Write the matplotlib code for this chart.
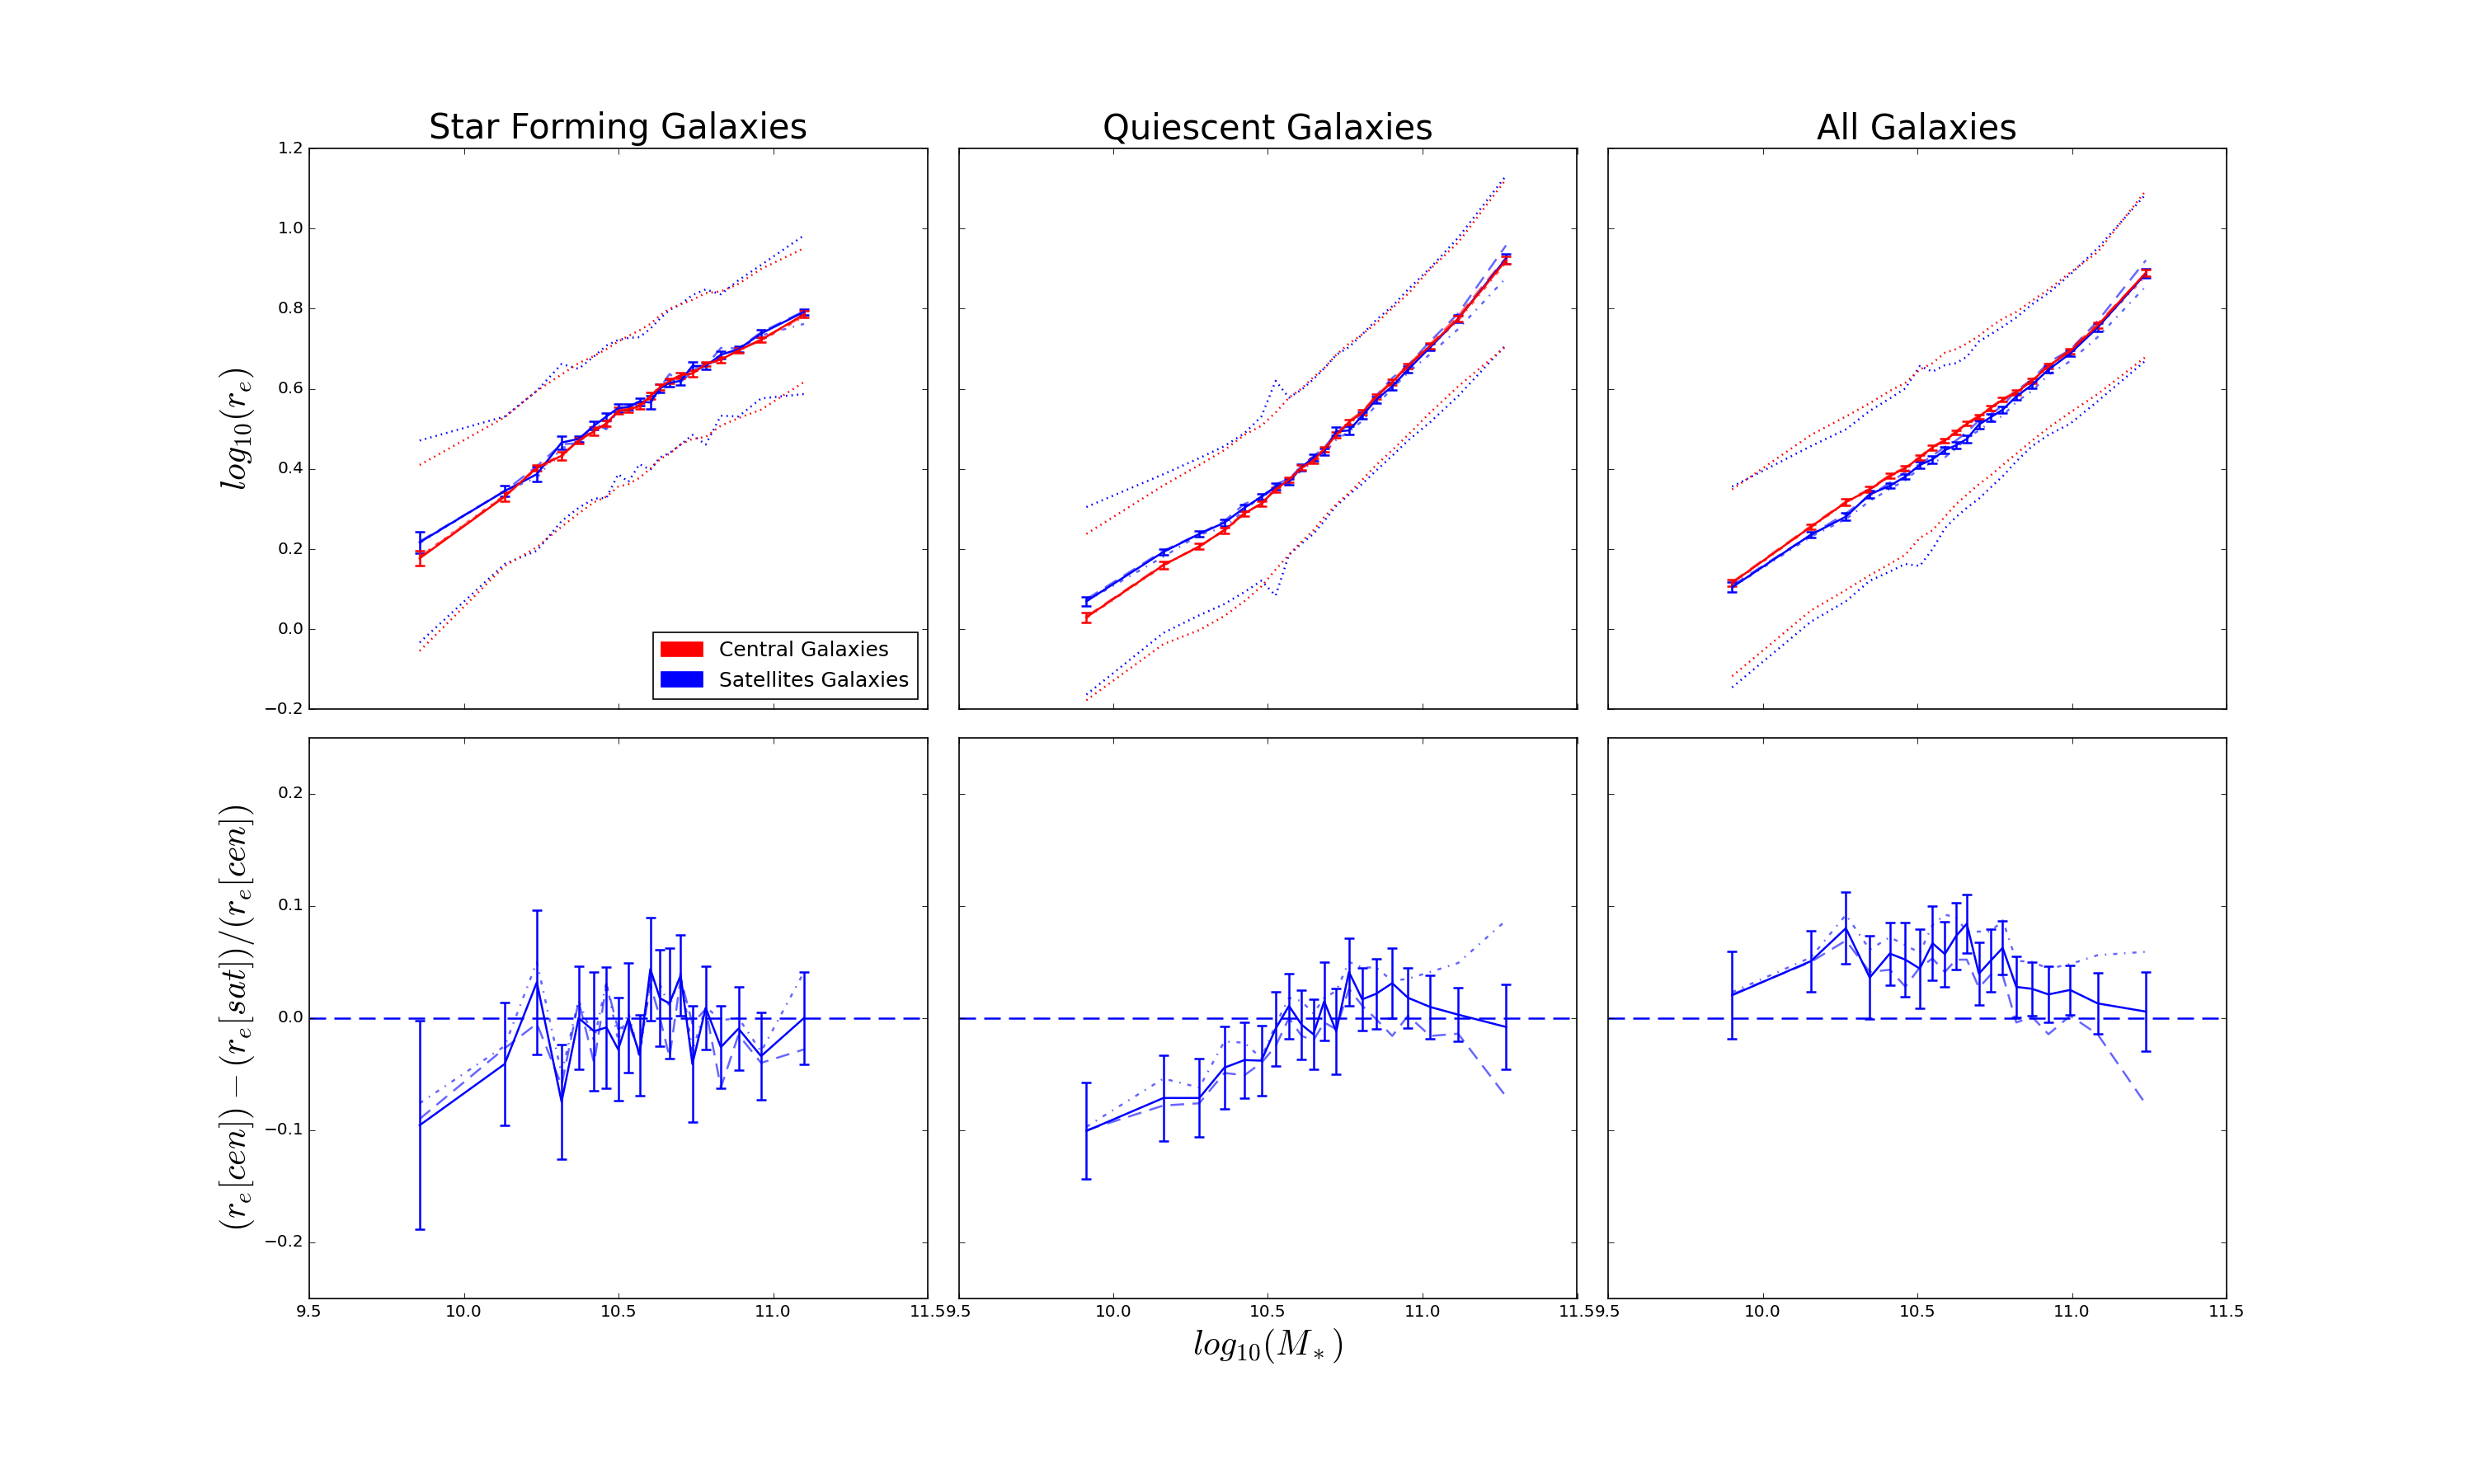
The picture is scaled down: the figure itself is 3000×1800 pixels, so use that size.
import numpy as np
import matplotlib
matplotlib.use('Agg')
import matplotlib.pyplot as plt
import matplotlib.patches as mpatches
from matplotlib.ticker import MultipleLocator

plt.style.use('classic')
plt.rcParams['figure.facecolor'] = 'white'
plt.rcParams['savefig.facecolor'] = 'white'
plt.rcParams['mathtext.fontset'] = 'cm'
plt.rcParams['lines.scale_dashes'] = False
plt.rcParams['font.family'] = ['DejaVu Sans']

titles = ['Star Forming Galaxies', 'Quiescent Galaxies', 'All Galaxies']

# ---- Star forming ----
sf_m = [9.857, 10.132, 10.236, 10.316, 10.371, 10.421, 10.461, 10.499, 10.532, 10.568,
        10.603, 10.634, 10.665, 10.701, 10.739, 10.782, 10.831, 10.888, 10.961, 11.100]
sf_cen = [0.177, 0.331, 0.403, 0.433, 0.471, 0.494, 0.514, 0.545, 0.548, 0.557,
          0.582, 0.604, 0.620, 0.634, 0.638, 0.662, 0.673, 0.696, 0.722, 0.786]
sf_cen_err = [0.019, 0.011, 0.008, 0.010, 0.007, 0.010, 0.008, 0.008, 0.006, 0.007,
              0.008, 0.007, 0.006, 0.007, 0.008, 0.006, 0.007, 0.006, 0.006, 0.008]
sf_cen_dash = [0.180, 0.333, 0.405, 0.436, 0.470, 0.497, 0.512, 0.544, 0.550, 0.556,
               0.584, 0.602, 0.622, 0.632, 0.640, 0.660, 0.675, 0.694, 0.724, 0.782]
sf_cen_dd = [0.182, 0.335, 0.400, 0.430, 0.473, 0.492, 0.516, 0.547, 0.546, 0.559,
             0.580, 0.606, 0.618, 0.636, 0.636, 0.664, 0.671, 0.698, 0.720, 0.780]
sf_cen_hi = [0.410, 0.529, 0.595, 0.636, 0.664, 0.682, 0.699, 0.718, 0.732, 0.746,
             0.762, 0.783, 0.800, 0.811, 0.822, 0.839, 0.843, 0.862, 0.899, 0.951]
sf_cen_lo = [-0.054, 0.158, 0.205, 0.256, 0.289, 0.317, 0.331, 0.356, 0.362, 0.378,
             0.401, 0.424, 0.438, 0.461, 0.475, 0.480, 0.508, 0.527, 0.548, 0.617]
sf_sat = [0.217, 0.345, 0.387, 0.466, 0.475, 0.508, 0.531, 0.552, 0.555, 0.568,
          0.566, 0.601, 0.615, 0.620, 0.657, 0.657, 0.685, 0.699, 0.738, 0.792]
sf_sat_err = [0.027, 0.013, 0.018, 0.016, 0.008, 0.010, 0.009, 0.011, 0.007, 0.009,
              0.016, 0.010, 0.009, 0.010, 0.011, 0.008, 0.009, 0.008, 0.009, 0.007]
sf_sat_dash = [0.219, 0.345, 0.407, 0.462, 0.464, 0.514, 0.499, 0.548, 0.552, 0.569,
               0.571, 0.602, 0.637, 0.617, 0.642, 0.657, 0.702, 0.701, 0.741, 0.794]
sf_sat_dd = [0.215, 0.346, 0.378, 0.452, 0.466, 0.501, 0.502, 0.556, 0.544, 0.574,
             0.565, 0.593, 0.614, 0.619, 0.649, 0.660, 0.672, 0.698, 0.733, 0.762]
sf_sat_hi = [0.471, 0.531, 0.595, 0.662, 0.650, 0.681, 0.708, 0.722, 0.727, 0.729,
             0.750, 0.775, 0.797, 0.811, 0.834, 0.848, 0.836, 0.871, 0.909, 0.983]
sf_sat_lo = [-0.033, 0.163, 0.196, 0.270, 0.303, 0.326, 0.328, 0.387, 0.368, 0.412,
             0.398, 0.429, 0.440, 0.461, 0.485, 0.461, 0.533, 0.531, 0.576, 0.587]
sf_diff = [-0.0956, -0.041, 0.0318, -0.0747, 0.0, -0.0118, -0.0084, -0.028, 0.0, -0.033,
           0.0436, 0.0176, 0.013, 0.038, -0.041, 0.009, -0.026, -0.0095, -0.034, 0.0]
sf_diff_err = [0.093, 0.055, 0.064, 0.051, 0.046, 0.053, 0.054, 0.046, 0.049, 0.036,
               0.046, 0.043, 0.049, 0.036, 0.052, 0.037, 0.037, 0.037, 0.039, 0.041]
sf_diff_dash = [-0.090, -0.027, -0.005, -0.060, 0.015, -0.040, 0.030, -0.010, -0.005, -0.030,
                0.030, 0.000, -0.035, 0.035, -0.005, 0.008, -0.062, -0.015, -0.040, -0.028]
sf_diff_dd = [-0.076, -0.025, 0.050, -0.050, 0.016, -0.020, 0.032, -0.020, 0.005, -0.035,
              0.035, 0.030, 0.010, 0.040, -0.030, 0.010, -0.002, 0.000, -0.030, 0.041]

# ---- Quiescent ----
q_m = [9.913, 10.162, 10.278, 10.359, 10.424, 10.479, 10.525, 10.568, 10.609, 10.647,
       10.682, 10.721, 10.762, 10.805, 10.850, 10.902, 10.953, 11.025, 11.115, 11.270]
q_cen = [0.030, 0.160, 0.207, 0.247, 0.289, 0.314, 0.349, 0.373, 0.403, 0.421,
         0.449, 0.485, 0.517, 0.541, 0.580, 0.617, 0.657, 0.708, 0.775, 0.921]
q_cen_err = [0.012, 0.009, 0.007, 0.007, 0.006, 0.006, 0.006, 0.006, 0.006, 0.006,
             0.007, 0.007, 0.007, 0.006, 0.006, 0.007, 0.007, 0.007, 0.008, 0.010]
q_cen_dash = [0.032, 0.162, 0.205, 0.249, 0.291, 0.312, 0.351, 0.375, 0.401, 0.423,
              0.451, 0.487, 0.520, 0.544, 0.583, 0.620, 0.660, 0.712, 0.782, 0.928]
q_cen_dd = [0.028, 0.158, 0.209, 0.245, 0.287, 0.316, 0.347, 0.371, 0.405, 0.419,
            0.447, 0.483, 0.515, 0.539, 0.578, 0.615, 0.655, 0.705, 0.770, 0.915]
q_cen_hi = [0.238, 0.359, 0.410, 0.447, 0.485, 0.508, 0.541, 0.578, 0.601, 0.629,
            0.652, 0.685, 0.713, 0.736, 0.764, 0.801, 0.837, 0.899, 0.965, 1.123]
q_cen_lo = [-0.177, -0.037, -0.002, 0.033, 0.070, 0.107, 0.149, 0.186, 0.219, 0.247,
            0.280, 0.312, 0.340, 0.373, 0.410, 0.447, 0.485, 0.541, 0.606, 0.706]
q_sat = [0.070, 0.193, 0.238, 0.266, 0.303, 0.331, 0.356, 0.368, 0.404, 0.429,
         0.443, 0.494, 0.496, 0.533, 0.573, 0.606, 0.648, 0.704, 0.775, 0.925]
q_sat_err = [0.011, 0.007, 0.007, 0.008, 0.008, 0.008, 0.008, 0.007, 0.008, 0.008,
             0.009, 0.010, 0.010, 0.008, 0.008, 0.009, 0.008, 0.009, 0.009, 0.012]
q_sat_dash = [0.075, 0.196, 0.238, 0.270, 0.313, 0.329, 0.362, 0.375, 0.408, 0.432,
              0.453, 0.491, 0.509, 0.539, 0.583, 0.627, 0.659, 0.719, 0.788, 0.958]
q_sat_dd = [0.070, 0.181, 0.236, 0.254, 0.297, 0.332, 0.350, 0.363, 0.398, 0.417,
            0.439, 0.473, 0.493, 0.520, 0.559, 0.601, 0.640, 0.687, 0.749, 0.877]
q_sat_hi = [0.305, 0.387, 0.427, 0.457, 0.489, 0.531, 0.620, 0.578, 0.598, 0.624,
            0.651, 0.685, 0.704, 0.736, 0.772, 0.806, 0.848, 0.902, 0.977, 1.132]
q_sat_lo = [-0.163, -0.009, 0.035, 0.063, 0.093, 0.121, 0.084, 0.186, 0.214, 0.238,
            0.270, 0.308, 0.336, 0.363, 0.396, 0.433, 0.471, 0.517, 0.582, 0.710]
q_diff = [-0.1007, -0.0713, -0.0713, -0.0443, -0.0375, -0.038, -0.0095, 0.0108, -0.006, -0.0145,
          0.0149, -0.012, 0.041, 0.0166, 0.0216, 0.031, 0.018, 0.0098, 0.003, -0.008]
q_diff_err = [0.043, 0.038, 0.035, 0.037, 0.034, 0.031, 0.033, 0.029, 0.031, 0.031,
              0.035, 0.038, 0.030, 0.028, 0.031, 0.031, 0.027, 0.028, 0.024, 0.038]
q_diff_dash = [-0.100, -0.078, -0.076, -0.049, -0.051, -0.040, -0.025, 0.000, -0.016, -0.020,
               -0.004, -0.010, 0.026, 0.011, -0.001, -0.016, 0.002, -0.016, -0.014, -0.070]
q_diff_dd = [-0.097, -0.054, -0.062, -0.021, -0.022, -0.036, -0.006, 0.018, 0.015, 0.004,
             0.018, 0.024, 0.050, 0.045, 0.045, 0.033, 0.035, 0.041, 0.049, 0.087]

# ---- All ----
a_m = [9.901, 10.156, 10.269, 10.346, 10.411, 10.461, 10.508, 10.549, 10.589, 10.625,
       10.660, 10.699, 10.737, 10.776, 10.820, 10.871, 10.924, 10.994, 11.083, 11.239]
a_cen = [0.116, 0.256, 0.317, 0.349, 0.383, 0.402, 0.429, 0.454, 0.471, 0.492,
         0.513, 0.531, 0.552, 0.573, 0.591, 0.620, 0.657, 0.694, 0.758, 0.890]
a_cen_err = [0.008, 0.006, 0.008, 0.007, 0.006, 0.006, 0.006, 0.006, 0.005, 0.005,
             0.005, 0.005, 0.006, 0.005, 0.006, 0.006, 0.006, 0.006, 0.007, 0.008]
a_cen_dash = [0.118, 0.258, 0.319, 0.351, 0.385, 0.404, 0.431, 0.456, 0.473, 0.494,
              0.515, 0.533, 0.554, 0.575, 0.594, 0.623, 0.660, 0.698, 0.763, 0.888]
a_cen_dd = [0.114, 0.254, 0.315, 0.347, 0.381, 0.400, 0.427, 0.452, 0.469, 0.490,
            0.511, 0.529, 0.550, 0.571, 0.589, 0.617, 0.654, 0.690, 0.753, 0.882]
a_cen_hi = [0.349, 0.485, 0.531, 0.564, 0.595, 0.615, 0.648, 0.664, 0.690, 0.699,
            0.713, 0.732, 0.755, 0.775, 0.792, 0.820, 0.848, 0.890, 0.941, 1.095]
a_cen_lo = [-0.117, 0.047, 0.098, 0.135, 0.163, 0.186, 0.228, 0.247, 0.281, 0.312,
            0.336, 0.362, 0.384, 0.410, 0.438, 0.471, 0.503, 0.541, 0.587, 0.680]
a_sat = [0.105, 0.236, 0.281, 0.337, 0.358, 0.381, 0.410, 0.424, 0.447, 0.459,
         0.475, 0.511, 0.529, 0.548, 0.581, 0.610, 0.648, 0.688, 0.753, 0.888]
a_sat_err = [0.012, 0.007, 0.009, 0.010, 0.006, 0.007, 0.008, 0.009, 0.008, 0.008,
             0.009, 0.010, 0.009, 0.009, 0.008, 0.008, 0.008, 0.007, 0.010, 0.011]
a_sat_dash = [0.109, 0.236, 0.289, 0.333, 0.366, 0.392, 0.412, 0.433, 0.455, 0.471,
              0.492, 0.521, 0.537, 0.558, 0.596, 0.623, 0.666, 0.697, 0.769, 0.921]
a_sat_dd = [0.104, 0.231, 0.275, 0.320, 0.350, 0.372, 0.402, 0.416, 0.429, 0.451,
            0.478, 0.496, 0.517, 0.533, 0.567, 0.595, 0.635, 0.669, 0.729, 0.856]
a_sat_hi = [0.356, 0.457, 0.499, 0.545, 0.576, 0.601, 0.657, 0.643, 0.659, 0.664,
            0.680, 0.718, 0.736, 0.755, 0.778, 0.811, 0.839, 0.885, 0.951, 1.086]
a_sat_lo = [-0.145, 0.019, 0.070, 0.121, 0.144, 0.163, 0.158, 0.200, 0.252, 0.280,
            0.303, 0.326, 0.354, 0.382, 0.419, 0.457, 0.485, 0.513, 0.569, 0.671]
a_diff = [0.0203, 0.0507, 0.080, 0.036, 0.0574, 0.052, 0.044, 0.0666, 0.057, 0.073,
          0.084, 0.0395, 0.051, 0.0625, 0.0277, 0.026, 0.021, 0.025, 0.013, 0.0057]
a_diff_err = [0.039, 0.027, 0.032, 0.037, 0.028, 0.033, 0.035, 0.033, 0.029, 0.030,
              0.026, 0.028, 0.028, 0.024, 0.027, 0.024, 0.025, 0.022, 0.027, 0.035]
a_diff_dash = [0.021, 0.050, 0.069, 0.041, 0.043, 0.028, 0.045, 0.053, 0.041, 0.052,
               0.052, 0.027, 0.0385, 0.038, -0.004, 0.001, -0.0145, 0.002, -0.0145, -0.077]
a_diff_dd = [0.023, 0.054, 0.092, 0.061, 0.072, 0.065, 0.058, 0.083, 0.092, 0.090,
             0.077, 0.077, 0.077, 0.087, 0.051, 0.050, 0.044, 0.048, 0.056, 0.059]

panels = [
    (sf_m, sf_cen, sf_cen_err, sf_cen_dash, sf_cen_dd, sf_cen_hi, sf_cen_lo,
     sf_sat, sf_sat_err, sf_sat_dash, sf_sat_dd, sf_sat_hi, sf_sat_lo,
     sf_diff, sf_diff_err, sf_diff_dash, sf_diff_dd),
    (q_m, q_cen, q_cen_err, q_cen_dash, q_cen_dd, q_cen_hi, q_cen_lo,
     q_sat, q_sat_err, q_sat_dash, q_sat_dd, q_sat_hi, q_sat_lo,
     q_diff, q_diff_err, q_diff_dash, q_diff_dd),
    (a_m, a_cen, a_cen_err, a_cen_dash, a_cen_dd, a_cen_hi, a_cen_lo,
     a_sat, a_sat_err, a_sat_dash, a_sat_dd, a_sat_hi, a_sat_lo,
     a_diff, a_diff_err, a_diff_dash, a_diff_dd),
]

DASH = (10, 6)
DASHDOT = (3, 5, 1, 5)
DOT = (1, 3)
LW = 1.5

fig, axes = plt.subplots(2, 3, figsize=(25, 15), dpi=120, sharex=True, sharey='row')
fig.subplots_adjust(left=0.125, right=0.9, top=0.9, bottom=0.125, wspace=0.05, hspace=0.05)

for i, p in enumerate(panels):
    (m, cen, cen_err, cen_dash, cen_dd, cen_hi, cen_lo,
     sat, sat_err, sat_dash, sat_dd, sat_hi, sat_lo,
     diff, diff_err, diff_dash, diff_dd) = p
    ax = axes[0, i]
    for y, err, dash, dd, hi, lo, c in [(sat, sat_err, sat_dash, sat_dd, sat_hi, sat_lo, 'b'),
                                         (cen, cen_err, cen_dash, cen_dd, cen_hi, cen_lo, 'r')]:
        ax.plot(m, hi, color=c, lw=LW, dashes=DOT)
        ax.plot(m, lo, color=c, lw=LW, dashes=DOT)
        ax.plot(m, dash, color=c, lw=LW, alpha=0.6, dashes=DASH)
        ax.plot(m, dd, color=c, lw=LW, alpha=0.6, dashes=DASHDOT)
        ax.errorbar(m, y, yerr=err, color=c, lw=LW, elinewidth=LW, capsize=3.5, capthick=LW)
    ax.set_title(titles[i], fontsize=25, pad=7)
    ax.set_xlim(9.5, 11.5)
    ax.set_ylim(-0.2, 1.2)
    ax.yaxis.set_major_locator(MultipleLocator(0.2))
    ax.xaxis.set_major_locator(MultipleLocator(0.5))

    bx = axes[1, i]
    bx.axhline(0.0, color='b', lw=LW, dashes=(12, 6))
    bx.plot(m, diff_dash, color='b', lw=LW, alpha=0.6, dashes=DASH)
    bx.plot(m, diff_dd, color='b', lw=LW, alpha=0.6, dashes=DASHDOT)
    bx.errorbar(m, diff, yerr=diff_err, color='b', lw=LW, elinewidth=LW, capsize=3.5, capthick=LW)
    bx.set_ylim(-0.25, 0.25)
    bx.yaxis.set_major_locator(MultipleLocator(0.1))
    bx.tick_params(labelsize=12)
    ax.tick_params(labelsize=12)

axes[0, 0].set_ylabel(r'$log_{10}(r_e)$', fontsize=25)
axes[1, 0].set_ylabel(r'$(r_e[cen]) - (r_e[sat])/(r_e[cen])$', fontsize=25)
axes[1, 1].set_xlabel(r'$log_{10}(M_*)$', fontsize=25)

handles = [mpatches.Patch(color='r', label='Central Galaxies'),
           mpatches.Patch(color='b', label='Satellites Galaxies')]
axes[0, 0].legend(handles=handles, loc='lower right', fontsize=15, fancybox=False)

fig.savefig('out.png', dpi=120)
